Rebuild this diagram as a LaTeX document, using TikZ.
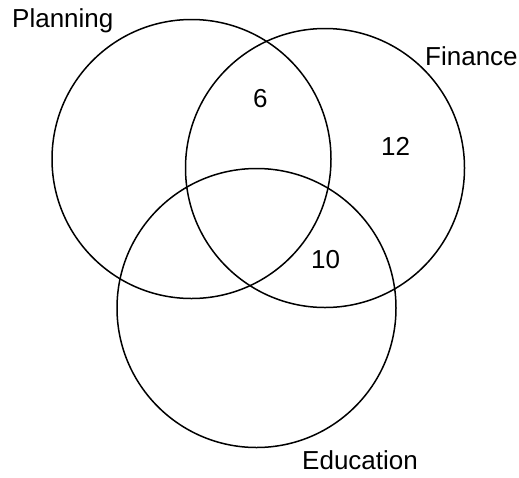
\documentclass[tikz,border=0pt]{standalone}
\usepackage{fontspec}
\setmainfont{Liberation Sans}
\usetikzlibrary{positioning}
\tikzset{
        % Set circles
        set_circle/.style={circle, draw=black, line width=1.5pt, minimum size=279pt, inner sep=0pt},
        % Set names
        set_label/.style={anchor=base west, inner sep=0pt, font=\fontsize{26}{30}\selectfont},
        % Counts in the regions
        set_count/.style={anchor=base west, inner sep=0pt, font=\fontsize{26}{30}\selectfont}
}
\begin{document}
\begin{tikzpicture}[x=1pt, y=-1pt]
            \useasboundingbox (0,0) rectangle (519,477);
            % Circles
            \node[set_circle] (planning) at (191.5,159) {};
            \node[set_circle] (finance) at (325,168) {};
            \node[set_circle] (education) at (256.5,308) {};
            % Names
            \node[set_label] (planning_name) at (12,27.5) {Planning};
            \node[set_label] (finance_name) at (425,65) {Finance};
            \node[set_label] (education_name) at (302,469) {Education};
            % Counts
            \node[set_count] (pf) at (253,107) {6};
            \node[set_count] (f) at (381,155) {12};
            \node[set_count] (fe) at (311,268) {10};
\end{tikzpicture}
\end{document}
